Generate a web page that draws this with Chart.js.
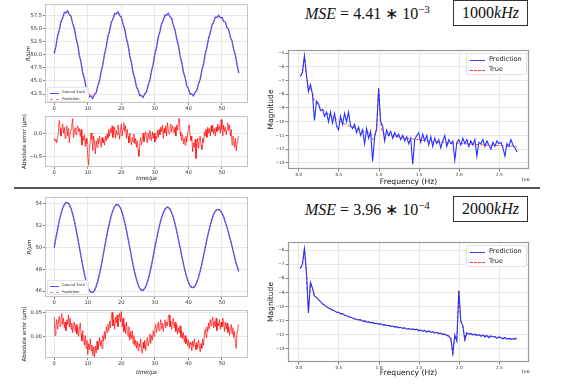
<!DOCTYPE html>
<html>
<head>
<meta charset="utf-8">
<script src="https://cdn.jsdelivr.net/npm/chart.js@4.4.1/dist/chart.umd.min.js"></script>
<style>
body { margin: 0; background: #fff; }
#fig { position: relative; width: 574px; height: 391px; overflow: hidden; background: #fff; font-family: 'DejaVu Sans', sans-serif; }
canvas { position: absolute; }
.mse { position: absolute; font-family: 'Liberation Serif', serif; font-size: 16px; line-height: 18px; color: #111; white-space: nowrap; }
.mse sup { font-size: 11px; vertical-align: 6px; line-height: 0; }
.tag { position: absolute; width: 75px; height: 26px; border: 1.5px solid #333; box-sizing: border-box; font-family: 'Liberation Serif', serif; font-size: 16px; line-height: 23px; text-align: center; color: #111; }
.sep { position: absolute; left: 14px; top: 187px; width: 526px; height: 2px; background: #555; }
.leg { position: absolute; background: rgba(255,255,255,0.85); border: 1px solid #e2e2e2; border-radius: 2px; box-sizing: border-box; }
.ln { position: absolute; height: 0; }
.lt { position: absolute; white-space: nowrap; color: #222; }
.off { position: absolute; font-size: 4.5px; color: #333; }
</style>
</head>
<body>
<div id="fig">
  <canvas id="sine1" width="250" height="118" style="left:0;top:0"></canvas>
  <canvas id="err1" width="250" height="76" style="left:0;top:110px"></canvas>
  <canvas id="fft1" width="282" height="150" style="left:250px;top:40px"></canvas>
  <canvas id="sine2" width="250" height="118" style="left:0;top:190px"></canvas>
  <canvas id="err2" width="250" height="80" style="left:0;top:303px"></canvas>
  <canvas id="fft2" width="282" height="150" style="left:250px;top:232px"></canvas>

  <div class="mse" style="left:305px;top:5px"><i>MSE</i> = 4.41 ∗ 10<sup>−3</sup></div>
  <div class="tag" style="left:453px;top:0px">1000<i>kHz</i></div>
  <div class="mse" style="left:305px;top:201px"><i>MSE</i> = 3.96 ∗ 10<sup>−4</sup></div>
  <div class="tag" style="left:453px;top:196px">2000<i>kHz</i></div>
  <div class="sep"></div>

  <div class="leg" style="left:47px;top:87px;width:42px;height:15px">
    <div class="ln" style="left:2px;top:5px;width:9px;border-top:1px solid #4a4aff"></div>
    <div class="lt" style="left:14px;top:2px;font-size:3.5px">Ground Truth</div>
    <div class="ln" style="left:2px;top:11px;width:9px;border-top:1px dashed #ff7a7a"></div>
    <div class="lt" style="left:14px;top:8.5px;font-size:3.5px">Prediction</div>
  </div>
  <div class="leg" style="left:47px;top:280px;width:42px;height:15px">
    <div class="ln" style="left:2px;top:5px;width:9px;border-top:1px solid #4a4aff"></div>
    <div class="lt" style="left:14px;top:2px;font-size:3.5px">Ground Truth</div>
    <div class="ln" style="left:2px;top:11px;width:9px;border-top:1px dashed #ff7a7a"></div>
    <div class="lt" style="left:14px;top:8.5px;font-size:3.5px">Prediction</div>
  </div>

  <div class="leg" style="left:466px;top:53px;width:61px;height:22px">
    <div class="ln" style="left:3px;top:5.5px;width:15px;border-top:1.2px solid #3344ff"></div>
    <div class="lt" style="left:22px;top:1px;font-size:6.6px">Prediction</div>
    <div class="ln" style="left:3px;top:15.5px;width:15px;border-top:1px dashed #ff3333"></div>
    <div class="lt" style="left:22px;top:11px;font-size:6.6px">True</div>
  </div>
  <div class="leg" style="left:466px;top:245px;width:61px;height:22px">
    <div class="ln" style="left:3px;top:5.5px;width:15px;border-top:1.2px solid #3344ff"></div>
    <div class="lt" style="left:22px;top:1px;font-size:6.6px">Prediction</div>
    <div class="ln" style="left:3px;top:15.5px;width:15px;border-top:1px dashed #ff3333"></div>
    <div class="lt" style="left:22px;top:11px;font-size:6.6px">True</div>
  </div>

  <div class="off" style="left:521px;top:177px">1e6</div>
  <div class="off" style="left:521px;top:369px">1e6</div>
</div>
<script>
// time axis (us), sampled every 0.5us for R, every 0.25us for the error
const tTicks = [0, 10, 20, 30, 40, 50]
const fTicks = [0.0, 0.5, 1.0, 1.5, 2.0, 2.5]

// 1000 kHz run
const r1Truth = [
  50.20, 51.51, 53.54, 54.62, 56.29, 56.90, 58.00, 57.96, 58.36, 57.60, 57.30, 55.89, 55.02, 53.14, 51.91,
  49.80, 48.49, 46.46, 45.38, 43.71, 43.10, 42.00, 42.04, 41.64, 42.40, 42.70, 44.11, 44.98, 46.86, 48.09,
  50.20, 51.46, 53.46, 54.50, 56.14, 56.73, 57.81, 57.76, 58.16, 57.41, 57.13, 55.74, 54.90, 53.06, 51.86,
  49.80, 48.54, 46.54, 45.50, 43.86, 43.27, 42.19, 42.24, 41.84, 42.59, 42.87, 44.26, 45.10, 46.94, 48.14,
  50.20, 51.40, 53.33, 54.33, 55.92, 56.47, 57.52, 57.46, 57.86, 57.12, 56.87, 55.52, 54.73, 52.93, 51.80,
  49.80, 48.60, 46.67, 45.67, 44.08, 43.53, 42.48, 42.54, 42.14, 42.88, 43.13, 44.48, 45.27, 47.07, 48.20,
  50.20, 51.32, 53.17, 54.09, 55.62, 56.12, 57.14, 57.06, 57.46, 57.00, 57.10, 56.30, 56.20, 55.10, 54.75,
  53.30, 52.60, 50.90, 49.90, 48.00, 46.50
]
const r1Pred = [
  50.30, 51.60, 53.40, 54.70, 56.15, 56.95, 57.85, 58.05, 58.20, 57.70, 57.15, 55.95, 54.90, 53.25, 51.80,
  49.95, 48.60, 46.55, 45.30, 43.85, 43.00, 42.20, 42.30, 41.90, 42.55, 42.80, 44.00, 45.05, 46.70, 48.20,
  50.05, 51.55, 53.30, 54.60, 56.00, 56.85, 57.65, 57.90, 58.00, 57.55, 57.00, 55.85, 54.80, 53.20, 51.75,
  49.95, 48.45, 46.65, 45.40, 44.00, 43.15, 42.35, 42.10, 42.00, 42.45, 43.00, 44.15, 45.20, 46.80, 48.25,
  50.10, 51.50, 53.20, 54.45, 55.80, 56.60, 57.35, 57.60, 57.70, 57.25, 56.70, 55.65, 54.60, 53.05, 51.70,
  49.95, 48.50, 46.80, 45.55, 44.25, 43.40, 42.70, 42.40, 42.40, 42.75, 43.30, 44.35, 45.40, 46.95, 48.30,
  50.05, 51.45, 53.00, 54.20, 55.50, 56.25, 57.00, 57.20, 57.30, 57.10, 56.95, 56.40, 56.05, 55.25, 54.60,
  53.45, 52.45, 51.05, 49.75, 48.15, 46.60
]
const e1 = [
  -0.10, -0.16, -0.12, -0.20, -0.08, 0.05, 0.30, 0.12, -0.05, 0.08, 0.22, 0.02, 0.15, -0.10, 0.05, 0.18,
  -0.05, 0.12, -0.20, 0.02, 0.10, 0.20, 0.34, -0.08, 0.05, 0.14, -0.02, 0.10, 0.18, 0.05, 0.12, -0.06,
  0.10, -0.25, -0.05, -0.15, -0.02, -0.28, -0.10, -0.22, -0.50, -0.70, -0.30, -0.15, 0.02, -0.12, -0.38, -0.05,
  -0.20, -0.45, -0.15, -0.30, -0.10, -0.22, -0.05, -0.18, -0.30, -0.08, -0.20, -0.12, -0.25, -0.05, -0.15, 0.00,
  -0.10, 0.10, -0.05, 0.12, 0.02, 0.18, -0.08, 0.05, 0.15, -0.10, 0.08, -0.02, 0.20, 0.05, -0.12, 0.10,
  0.22, -0.05, 0.12, 0.25, 0.05, 0.18, -0.10, 0.10, -0.05, -0.20, 0.02, -0.15, -0.25, -0.08, -0.18, 0.00,
  -0.22, -0.10, -0.30, -0.15, -0.35, -0.50, -0.20, -0.08, -0.25, -0.12, 0.02, -0.18, -0.05, 0.05, -0.10, -0.20,
  0.02, -0.12, 0.08, -0.05, -0.15, 0.05, -0.10, 0.02, -0.18, -0.05, -0.12, 0.08, -0.08, 0.10, -0.02, 0.15,
  0.05, 0.20, -0.10, 0.12, 0.02, 0.18, -0.05, 0.25, 0.08, 0.00, 0.15, 0.22, 0.05, 0.18, 0.10, 0.02,
  0.15, -0.05, 0.20, 0.08, 0.25, 0.35, 0.05, -0.05, -0.15, -0.02, -0.22, -0.10, -0.25, -0.05, -0.18, 0.00,
  0.12, 0.20, -0.05, -0.15, -0.05, -0.40, -0.20, -0.30, -0.12, -0.55, -0.28, -0.10, -0.32, -0.15, -0.05, -0.25,
  -0.35, -0.10, -0.20, 0.05, -0.05, 0.10, -0.08, 0.15, 0.02, 0.12, -0.05, 0.18, 0.05, 0.20, 0.00, 0.12,
  -0.05, 0.15, 0.05, 0.22, 0.08, 0.18, 0.02, 0.32, 0.10, -0.05, 0.20, 0.05, 0.15, -0.02, 0.10, 0.25,
  0.08, 0.20, -0.05, 0.10, -0.25, -0.05, -0.15, -0.30, -0.10, -0.38, -0.20, -0.08, -0.05
]
// spectrum, frequency in units of 1e6 Hz, from 0.02 every 0.025
const s1True = [
  -6.7, -6.4, -5.2, -6.6, -7.7, -7.5, -7.9, -8.5, -8.6, -8.8, -9.0, -9.1, -9.25, -9.35, -9.45, -9.55,
  -9.65, -9.75, -9.85, -9.95, -10.0, -10.1, -10.15, -10.2, -10.3, -10.35, -10.4, -10.45, -10.5, -10.55, -10.6, -10.65,
  -10.7, -10.75, -10.8, -10.85, -11.3, -11.0, -10.6, -7.5, -10.1, -10.8, -10.9, -10.95, -11.0, -11.0, -11.05, -11.05,
  -11.1, -11.1, -11.15, -11.15, -11.2, -11.2, -11.2, -11.25, -11.25, -11.3, -11.3, -11.3, -11.35, -11.35, -11.35, -11.4,
  -11.4, -11.4, -11.45, -11.45, -11.45, -11.5, -11.5, -11.5, -11.5, -11.55, -11.55, -11.55, -11.6, -11.6, -11.6, -11.55,
  -11.6, -11.6, -11.6, -11.6, -11.62, -11.63, -11.64, -11.65, -11.66, -11.67, -11.68, -11.68, -11.69, -11.7, -11.7, -11.71,
  -11.72, -11.72, -11.73, -11.74, -11.75, -11.75, -11.76, -11.77, -11.77, -11.78, -11.79, -11.8, -11.8
]
const s1Pred = [
  -6.7, -6.4, -5.2, -6.6, -7.8, -7.3, -8.0, -9.9, -8.5, -8.7, -9.2, -9.1, -9.6, -9.3, -10.0, -9.3,
  -10.1, -9.4, -10.3, -10.6, -9.6, -10.2, -9.4, -10.0, -9.3, -10.3, -10.5, -10.2, -10.8, -10.4, -11.0, -10.6,
  -11.6, -10.5, -11.2, -10.7, -12.9, -11.1, -10.5, -7.6, -10.0, -10.3, -11.4, -10.6, -11.0, -10.7, -11.2, -10.8,
  -11.1, -10.9, -11.3, -11.0, -11.4, -11.1, -11.6, -11.2, -13.1, -11.3, -11.0, -10.8, -11.5, -10.9, -11.4, -11.0,
  -11.7, -11.1, -11.8, -11.2, -11.6, -11.3, -11.9, -11.4, -11.0, -11.8, -11.3, -11.6, -11.4, -12.8, -11.5, -11.3,
  -11.7, -11.2, -11.6, -11.3, -11.8, -11.4, -11.7, -11.3, -12.5, -11.5, -11.6, -11.3, -11.8, -11.4, -11.7, -12.0,
  -11.5, -11.8, -11.4, -11.6, -11.5, -11.9, -12.5, -11.6, -11.8, -11.3, -11.7, -11.9, -12.2
]

// 2000 kHz run
const r2Truth = [
  50.00, 50.86, 51.69, 52.44, 53.08, 53.59, 53.95, 54.13, 54.13, 53.95, 53.59, 53.08, 52.44, 51.69, 50.86,
  50.00, 49.14, 48.31, 47.56, 46.92, 46.41, 46.05, 45.87, 45.87, 46.05, 46.41, 46.92, 47.56, 48.31, 49.14,
  50.00, 50.82, 51.61, 52.32, 52.93, 53.42, 53.76, 53.93, 53.93, 53.76, 53.42, 52.93, 52.32, 51.61, 50.82,
  50.00, 49.18, 48.39, 47.68, 47.07, 46.58, 46.24, 46.07, 46.07, 46.24, 46.58, 47.07, 47.68, 48.39, 49.18,
  50.00, 50.77, 51.51, 52.18, 52.75, 53.20, 53.52, 53.68, 53.68, 53.52, 53.20, 52.75, 52.18, 51.51, 50.77,
  50.00, 49.23, 48.49, 47.82, 47.25, 46.80, 46.48, 46.32, 46.32, 46.48, 46.80, 47.25, 47.82, 48.49, 49.23,
  50.00, 50.73, 51.42, 52.06, 52.60, 53.03, 53.33, 53.48, 53.50, 53.40, 53.15, 52.80, 52.35, 51.85, 51.30,
  50.70, 50.10, 49.45, 48.80, 48.25, 47.80
]
const r2Pred = [
  49.97, 50.89, 51.66, 52.47, 53.05, 53.62, 53.92, 54.16, 54.10, 53.98, 53.56, 53.11, 52.41, 51.72, 50.83,
  50.03, 49.11, 48.34, 47.53, 46.95, 46.38, 46.08, 45.84, 45.90, 46.02, 46.44, 46.89, 47.59, 48.28, 49.17,
  49.97, 50.85, 51.58, 52.35, 52.90, 53.45, 53.73, 53.96, 53.90, 53.79, 53.39, 52.96, 52.29, 51.64, 50.79,
  50.03, 49.15, 48.42, 47.65, 47.10, 46.55, 46.27, 46.04, 46.10, 46.21, 46.61, 47.04, 47.71, 48.36, 49.21,
  49.97, 50.80, 51.48, 52.21, 52.72, 53.23, 53.49, 53.71, 53.65, 53.55, 53.17, 52.78, 52.15, 51.54, 50.74,
  50.03, 49.20, 48.52, 47.79, 47.28, 46.77, 46.51, 46.29, 46.35, 46.45, 46.83, 47.22, 47.85, 48.46, 49.26,
  49.97, 50.76, 51.39, 52.09, 52.57, 53.06, 53.30, 53.51, 53.47, 53.43, 53.12, 52.83, 52.32, 51.88, 51.27,
  50.73, 50.07, 49.48, 48.77, 48.28, 47.77
]
const e2 = [
  0.040, 0.002, 0.022, 0.035, 0.015, 0.030, 0.042, 0.020, 0.035, 0.048, 0.025, 0.038, 0.018, 0.030, 0.012, 0.035,
  0.025, 0.045, 0.020, 0.038, 0.015, 0.028, 0.008, 0.022, 0.030, 0.010, 0.025, 0.005, 0.020, 0.000, 0.015, 0.028,
  0.005, -0.010, 0.012, -0.005, -0.018, 0.002, -0.025, -0.008, -0.038, -0.015, -0.028, -0.005, -0.030, -0.018, -0.040, -0.022,
  -0.045, -0.020, -0.035, -0.010, -0.028, -0.015, -0.002, -0.020, -0.008, -0.025, 0.002, -0.010, 0.010, -0.005, 0.020, 0.008,
  0.025, 0.012, 0.032, 0.018, 0.038, 0.050, 0.022, 0.035, 0.015, 0.040, 0.028, 0.045, 0.020, 0.035, 0.048, 0.030,
  0.052, 0.020, 0.038, 0.010, 0.025, 0.005, 0.030, 0.012, 0.000, 0.020, -0.008, 0.010, -0.005, 0.012, -0.015, 0.002,
  -0.020, -0.008, -0.025, -0.010, -0.030, -0.015, -0.022, -0.005, -0.028, -0.035, -0.012, -0.025, -0.008, -0.030, -0.015, -0.002,
  -0.020, -0.010, 0.005, -0.015, 0.002, -0.008, 0.012, 0.000, 0.015, 0.025, 0.008, 0.020, 0.030, 0.012, 0.022, 0.035,
  0.015, 0.028, 0.010, 0.025, 0.035, 0.018, 0.030, 0.022, 0.040, 0.045, 0.020, 0.032, 0.015, 0.028, 0.038, 0.018,
  0.030, 0.010, 0.025, 0.005, 0.018, 0.008, 0.022, -0.002, 0.012, -0.005, 0.008, -0.012, 0.002, -0.015, -0.005, -0.020,
  -0.008, -0.025, -0.012, -0.018, -0.030, -0.010, -0.022, -0.005, -0.018, -0.028, -0.012, -0.025, -0.008, -0.020, -0.032, -0.015,
  -0.025, -0.005, -0.018, 0.005, 0.015, -0.002, 0.020, 0.010, 0.028, 0.015, 0.035, 0.022, 0.030, 0.040, 0.018, 0.032,
  0.020, 0.038, 0.012, 0.028, 0.022, 0.035, 0.015, 0.030, 0.020, 0.038, 0.025, 0.010, 0.030, 0.015, 0.028, 0.008,
  0.020, 0.002, 0.015, 0.025, 0.005, 0.018, -0.002, 0.010, -0.015, -0.025, 0.010, 0.020, 0.025
]
const s2True = [
  -7.3, -7.0, -5.85, -7.6, -10.4, -8.3, -8.7, -9.25, -9.35, -9.5, -9.65, -9.8, -9.9, -10.0, -10.1, -10.2,
  -10.25, -10.3, -10.4, -10.45, -10.5, -10.55, -10.6, -10.65, -10.7, -10.75, -10.8, -10.85, -10.9, -10.92, -10.95, -11.0,
  -11.03, -11.06, -11.1, -11.12, -11.15, -11.18, -11.2, -11.22, -11.25, -11.28, -11.3, -11.32, -11.35, -11.37, -11.4, -11.42,
  -11.44, -11.46, -11.48, -11.5, -11.52, -11.54, -11.56, -11.58, -11.6, -11.62, -11.64, -11.66, -11.68, -11.7, -11.72, -11.74,
  -11.76, -11.78, -11.8, -11.82, -11.85, -11.87, -11.9, -11.93, -11.96, -12.0, -12.05, -12.15, -13.5, -12.1, -12.4, -8.8,
  -11.0, -11.4, -12.4, -11.9, -11.9, -11.95, -11.95, -12.0, -12.0, -12.02, -12.05, -12.05, -12.07, -12.08, -12.1, -12.1,
  -12.12, -12.13, -12.15, -12.16, -12.18, -12.2, -12.2, -12.22, -12.25, -12.25, -12.27, -12.25, -12.22
]
const s2Pred = [
  -7.3, -7.0, -5.9, -7.6, -10.45, -8.3, -8.7, -9.25, -9.35, -9.5, -9.65, -9.8, -9.9, -10.0, -10.1, -10.15,
  -10.25, -10.3, -10.4, -10.4, -10.5, -10.5, -10.62, -10.65, -10.72, -10.75, -10.8, -10.88, -10.9, -10.95, -10.92, -11.05,
  -11.0, -11.1, -11.08, -11.15, -11.12, -11.2, -11.18, -11.25, -11.22, -11.3, -11.28, -11.35, -11.32, -11.4, -11.38, -11.45,
  -11.42, -11.5, -11.46, -11.55, -11.5, -11.6, -11.55, -11.62, -11.58, -11.65, -11.6, -11.72, -11.65, -11.75, -11.68, -11.8,
  -11.72, -11.82, -11.78, -11.88, -11.82, -11.92, -11.88, -11.98, -11.95, -12.05, -12.1, -12.25, -13.3, -12.0, -12.45, -8.9,
  -11.05, -11.35, -12.35, -11.85, -11.95, -11.9, -12.0, -11.95, -12.05, -11.98, -12.1, -12.0, -12.15, -12.05, -12.2, -12.08,
  -12.15, -12.12, -12.25, -12.15, -12.2, -12.28, -12.2, -12.3, -12.25, -12.32, -12.28, -12.3, -12.25
]

const blue = 'rgba(40,40,255,0.75)'
const pink = 'rgba(255,50,50,0.6)'

function pts(t0, dt, vals) {
  return vals.map((v, i) => ({ x: t0 + i * dt, y: v }))
}

function fmt(v, d) {
  return v.toFixed(d).replace('-', '\u2212')
}

const frame = {
  id: 'frame',
  afterDatasetsDraw(chart, args, o) {
    const { ctx, chartArea: a } = chart
    ctx.save()
    ctx.strokeStyle = o.color
    ctx.lineWidth = o.width
    ctx.strokeRect(a.left + 0.5, a.top + 0.5, a.width - 1, a.height - 1)
    ctx.restore()
  }
}

function plot(id, datasets, o) {
  const small = o.small
  return new Chart(document.getElementById(id), {
    type: 'line',
    data: { datasets: datasets },
    plugins: [frame],
    options: {
      responsive: false,
      animation: false,
      events: [],
      layout: { padding: { top: o.top, right: o.right, left: 0, bottom: 0 } },
      elements: { point: { radius: 0 }, line: { tension: 0 } },
      plugins: {
        legend: { display: false },
        tooltip: { enabled: false },
        frame: { color: small ? '#c4c4c4' : '#9a9a9a', width: small ? 1 : 1.2 }
      },
      scales: {
        x: {
          type: 'linear', min: o.xmin, max: o.xmax,
          afterFit: s => { s.height = o.xh },
          afterBuildTicks: s => { s.ticks = o.xticks.map(v => ({ value: v })) },
          border: { display: false },
          grid: { color: '#e2e2e2', lineWidth: 0.8, tickLength: small ? 2 : 2.5, tickColor: '#666' },
          ticks: {
            autoSkip: false, maxRotation: 0, padding: 1, color: '#333',
            font: { size: o.tickSize },
            callback: v => fmt(v, o.xdec)
          },
          title: {
            display: !!o.xlabel, text: o.xlabel, color: '#111',
            font: { size: o.titleSize, style: o.xitalic ? 'italic' : 'normal' },
            padding: { top: 0, bottom: o.xpad }
          }
        },
        y: {
          min: o.ymin, max: o.ymax,
          afterFit: s => { s.width = o.yw },
          afterBuildTicks: s => { s.ticks = o.yticks.map(v => ({ value: v })) },
          border: { display: false },
          grid: { color: '#e2e2e2', lineWidth: 0.8, tickLength: small ? 2 : 2.5, tickColor: '#666' },
          ticks: {
            autoSkip: false, padding: 1, color: '#333',
            font: { size: o.tickSize },
            callback: v => fmt(v, o.ydec)
          },
          title: {
            display: true, text: o.ylabel, color: '#111',
            font: { size: o.titleSize, style: o.yitalic ? 'italic' : 'normal' },
            padding: { top: o.ypad, bottom: 0 }
          }
        }
      }
    }
  })
}

Chart.defaults.font.family = "'DejaVu Sans', sans-serif"

const sineSets = (truth, pred) => [
  { data: pts(0, 0.5, truth), borderColor: blue, borderWidth: 1.3 },
  { data: pts(0, 0.5, pred), borderColor: pink, borderWidth: 1.3, borderDash: [2, 1.5] }
]
const errSet = vals => [{ data: pts(0, 0.25, vals), borderColor: 'rgba(255,0,0,0.85)', borderWidth: 0.8 }]
const fftSets = (pred, truth) => [
  { data: pts(0.02, 0.025, pred), borderColor: '#2233ff', borderWidth: 1.1 },
  { data: pts(0.02, 0.025, truth), borderColor: 'rgba(255,40,40,0.9)', borderWidth: 1, borderDash: [3, 2] }
]

const leftBase = { small: true, xmin: -2.75, xmax: 57.75, xticks: tTicks, xdec: 0, yw: 45, right: 2, tickSize: 5.2, titleSize: 5.6 }
const rightBase = { small: false, xmin: -0.135, xmax: 2.87, xticks: fTicks, xdec: 1, ydec: 0, yw: 38, right: 3, tickSize: 4.3, titleSize: 7.6 }

plot('sine1', sineSets(r1Truth, r1Pred), Object.assign({}, leftBase, {
  top: 4, xh: 15, ymin: 40.8, ymax: 59.6, yticks: [42.5, 45, 47.5, 50, 52.5, 55, 57.5], ydec: 1,
  ylabel: 'R/\u03bcm', yitalic: true, ypad: 25
}))
plot('err1', errSet(e1), Object.assign({}, leftBase, {
  top: 6, xh: 19, ymin: -0.74, ymax: 0.40, yticks: [-0.5, 0.0], ydec: 1,
  ylabel: 'Absolute error (\u03bcm)', ypad: 21.5, xlabel: 'time/\u03bcs', xitalic: true, xpad: 4.5
}))
plot('sine2', sineSets(r2Truth, r2Pred), Object.assign({}, leftBase, {
  top: 7, xh: 11, ymin: 45.45, ymax: 54.64, yticks: [46, 48, 50, 52, 54], ydec: 0,
  ylabel: 'R/\u03bcm', yitalic: true, ypad: 26
}))
plot('err2', errSet(e2), Object.assign({}, leftBase, {
  top: 7, xh: 25, ymin: -0.045, ymax: 0.055, yticks: [0.0, 0.05], ydec: 2,
  ylabel: 'Absolute error (\u03bcm)', ypad: 21.5, xlabel: 'time/\u03bcs', xitalic: true, xpad: 7.5
}))
plot('fft1', fftSets(s1Pred, s1True), Object.assign({}, rightBase, {
  top: 10, xh: 21, ymin: -13.44, ymax: -4.78, yticks: [-13, -12, -11, -10, -9, -8, -7, -6, -5],
  ylabel: 'Magnitude', ypad: 16.5, xlabel: 'Frequency (Hz)', xpad: 3.5
}))
plot('fft2', fftSets(s2Pred, s2True), Object.assign({}, rightBase, {
  top: 10, xh: 20, ymin: -13.92, ymax: -5.43, yticks: [-13, -12, -11, -10, -9, -8, -7, -6],
  ylabel: 'Magnitude', ypad: 16.5, xlabel: 'Frequency (Hz)', xpad: 4.5
}))
</script>
</body>
</html>
